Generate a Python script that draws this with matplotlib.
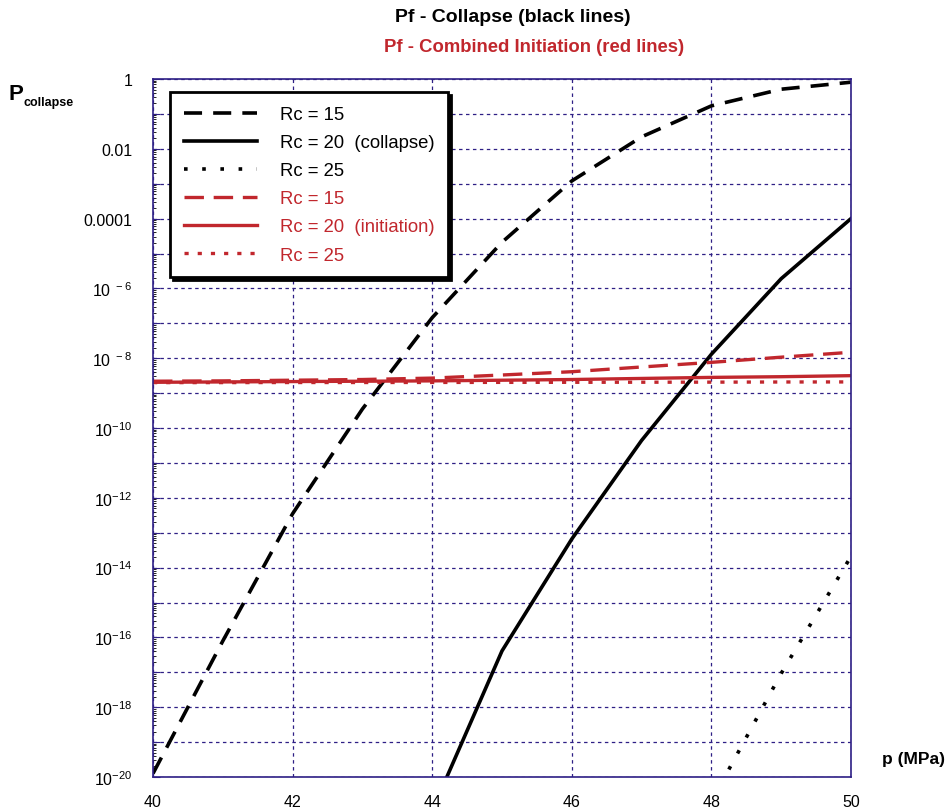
import numpy as np
import matplotlib.pyplot as plt
from matplotlib.ticker import FixedLocator, FixedFormatter, LogLocator, NullFormatter

plt.rcParams['font.family'] = ['Liberation Sans', 'DejaVu Sans']
plt.rcParams['mathtext.fontset'] = 'custom'
plt.rcParams['mathtext.rm'] = 'Liberation Sans'
plt.rcParams['lines.scale_dashes'] = False

# pressure (MPa)
p = [40, 41, 42, 43, 44, 45, 46, 47, 48, 49, 50]
p_rc20 = [44, 45, 46, 47, 48, 49, 50]
p_rc25 = [48, 49, 50]

# probability of collapse (black lines)
collapse_rc15 = [1.26e-20, 7.9e-17, 3.5e-13, 3.5e-10, 1.45e-7, 2.1e-5,
                 1.2e-3, 0.022, 0.17, 0.51, 0.81]
collapse_rc20 = [1.1e-21, 4.1e-17, 6.6e-14, 4.4e-11, 1.3e-8, 1.9e-6, 1.0e-4]
collapse_rc25 = [2.0e-21, 9.3e-18, 2.1e-14]

# probability of combined initiation (red lines)
init_rc15 = [2.19e-9, 2.24e-9, 2.34e-9, 2.45e-9, 2.69e-9, 3.3e-9,
             4.1e-9, 5.6e-9, 7.6e-9, 1.07e-8, 1.48e-8]
init_rc20 = [2.04e-9, 2.09e-9, 2.14e-9, 2.19e-9, 2.24e-9, 2.34e-9,
             2.45e-9, 2.63e-9, 2.82e-9, 2.95e-9, 3.16e-9]
init_rc25 = [2.00e-9, 2.00e-9, 2.01e-9, 2.01e-9, 2.02e-9, 2.03e-9,
             2.04e-9, 2.05e-9, 2.06e-9, 2.08e-9, 2.09e-9]

x_ticks = [40, 42, 44, 46, 48, 50]
y_decades = list(range(0, -21, -1))
y_labels = ['1', '', '0.01', '', '0.0001', '',
            r'$\mathregular{10^{\ -6}}$', '', r'$\mathregular{10^{\ -8}}$', '',
            r'$\mathregular{10^{-10}}$', '', r'$\mathregular{10^{-12}}$', '',
            r'$\mathregular{10^{-14}}$', '', r'$\mathregular{10^{-16}}$', '',
            r'$\mathregular{10^{-18}}$', '', r'$\mathregular{10^{-20}}$']

red = '#c1272d'
grid_col = '#2e1f85'

fig = plt.figure(figsize=(9.49, 8.12), dpi=100)
ax = fig.add_axes([153/949, 34/812, 698/949, 698/812])

ax.plot(p, collapse_rc15, color='black', lw=2.6, dashes=(13, 8), label='Rc = 15')
ax.plot(p_rc20, collapse_rc20, color='black', lw=2.6, label='Rc = 20  (collapse)')
ax.plot(p_rc25, collapse_rc25, color='black', lw=2.6, dashes=(2.6, 10.5), label='Rc = 25')
ax.plot(p, init_rc15, color=red, lw=2.4, dashes=(14, 7), label='Rc = 15')
ax.plot(p, init_rc20, color=red, lw=2.4, label='Rc = 20  (initiation)')
ax.plot(p, init_rc25, color=red, lw=2.4, dashes=(3, 6.5), label='Rc = 25')

ax.set_yscale('log')
ax.set_xlim(40, 50)
ax.set_ylim(1e-20, 1)

ax.xaxis.set_major_locator(FixedLocator(x_ticks))
ax.yaxis.set_major_locator(FixedLocator([10.0**d for d in y_decades]))
ax.yaxis.set_major_formatter(FixedFormatter(y_labels))
ax.yaxis.set_minor_locator(LogLocator(base=10, subs=np.arange(2, 10), numticks=100))
ax.yaxis.set_minor_formatter(NullFormatter())

ax.tick_params(axis='both', labelsize=11.5, colors=grid_col, labelcolor='black')
ax.tick_params(axis='x', length=0, pad=12)
ax.tick_params(axis='y', which='major', direction='in', length=5, pad=15)
ax.tick_params(axis='y', which='minor', direction='in', length=2, width=0.6)

ax.grid(True, which='major', color=grid_col, lw=0.9, linestyle=(0, (2.5, 2.5)))
for s in ax.spines.values():
    s.set_color(grid_col)
    s.set_linewidth(1.2)

leg = ax.legend(loc='upper left', bbox_to_anchor=(0.024, 0.981), borderaxespad=0,
                fontsize=13.3, handlelength=4.0, labelspacing=0.6,
                handletextpad=1.2, borderpad=0.75, fancybox=False,
                shadow={'facecolor': 'black', 'edgecolor': 'black', 'alpha': 1},
                framealpha=1)
leg.get_frame().set_edgecolor('black')
leg.get_frame().set_linewidth(2)
for t, c in zip(leg.get_texts(), ['black'] * 3 + [red] * 3):
    t.set_color(c)

fig.text(513/949, 1 - 18/812, 'Pf - Collapse (black lines)', ha='center', va='center',
         fontsize=14, fontweight='bold')
fig.text(534/949, 1 - 47/812, 'Pf - Combined Initiation (red lines)', ha='center',
         va='center', fontsize=13.3, fontweight='bold', color=red)

fig.text(9/949, 1 - 94/812, 'P', ha='left', va='center', fontsize=16, fontweight='bold')
fig.text(23/949, 1 - 103/812, 'collapse', ha='left', va='center', fontsize=9,
         fontweight='bold')
fig.text(945/949, 1 - 760/812, 'p (MPa)', ha='right', va='center', fontsize=12.5,
         fontweight='bold')

fig.savefig('out.png', dpi=100)
